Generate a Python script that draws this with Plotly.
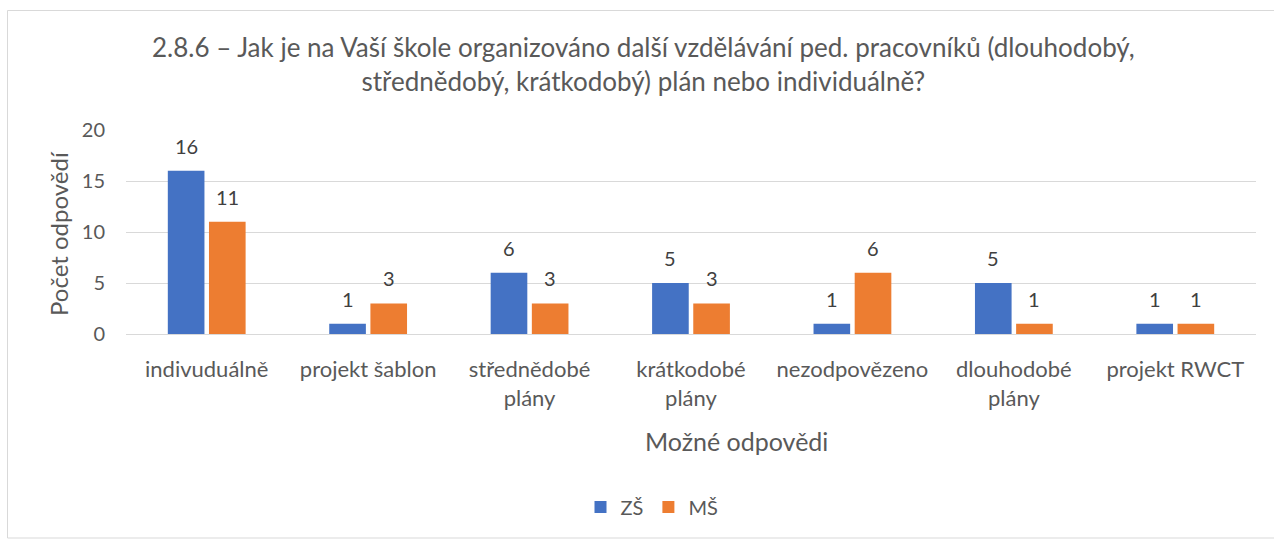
import plotly.graph_objects as go

# Survey answers per option, split by school type
categories = [
    "indivuduálně",
    "projekt šablon",
    "střednědobé<br>plány",
    "krátkodobé<br>plány",
    "nezodpovězeno",
    "dlouhodobé<br>plány",
    "projekt RWCT",
]
zs_values = [16, 1, 6, 5, 1, 5, 1]
ms_values = [11, 3, 3, 3, 6, 1, 1]
series_names = ["ZŠ", "MŠ"]
y_ticks = [0, 5, 10, 15, 20]

title_text = ("2.8.6 – Jak je na Vaší škole organizováno další vzdělávání ped. pracovníků (dlouhodobý,<br>"
              "střednědobý, krátkodobý) plán nebo individuálně?")

FONT = "Lato"
TEXT = "#595959"
BLUE = "#4472C4"
ORANGE = "#ED7D31"

W, H = 1274, 540
L, R, T, B = 126, 18, 130, 206
plot_w = W - L - R
plot_h = H - T - B


def px_x(p):
    return (p - L) / plot_w


def px_y(p):
    return (H - B - p) / plot_h


fig = go.Figure()
for name, vals, col in [(series_names[0], zs_values, BLUE), (series_names[1], ms_values, ORANGE)]:
    fig.add_trace(go.Bar(name=name, x=categories, y=vals, marker=dict(color=col, line=dict(width=0))))

# value labels above each bar
slot = plot_w / len(categories) * (1 - 0.49) / 2
annotations = []
for vals, shift in [(zs_values, -slot / 2), (ms_values, slot / 2)]:
    for c, v in zip(categories, vals):
        annotations.append(dict(x=c, y=v, xref="x", yref="y", text=str(v), showarrow=False,
                                xshift=shift, yshift=25, yanchor="middle",
                                font=dict(family=FONT, size=20, color="#404040")))

# chart title
annotations.append(dict(x=px_x(643), y=px_y(64), xref="paper", yref="paper", text=title_text,
                        showarrow=False, xanchor="center", yanchor="middle",
                        font=dict(family=FONT, size=26, color=TEXT)))
# axis titles
annotations.append(dict(x=px_x(736), y=px_y(441), xref="paper", yref="paper", text="Možné odpovědi",
                        showarrow=False, xanchor="center", yanchor="middle",
                        font=dict(family=FONT, size=25, color=TEXT)))
annotations.append(dict(x=px_x(58), y=px_y(234), xref="paper", yref="paper", text="Počet odpovědí",
                        showarrow=False, xanchor="center", yanchor="middle", textangle=-90,
                        font=dict(family=FONT, size=24, color=TEXT)))

fig.update_layout(
    width=W, height=H,
    margin=dict(l=L, r=R, t=T, b=B, autoexpand=False),
    paper_bgcolor="white", plot_bgcolor="white",
    barmode="group", bargap=0.49, bargroupgap=0.11,
    font=dict(family=FONT, color=TEXT),
    showlegend=True,
    legend=dict(orientation="h", x=px_x(652), y=px_y(507), xanchor="center", yanchor="middle",
                font=dict(family=FONT, size=20, color=TEXT), itemwidth=30,
                traceorder="normal"),
    annotations=annotations,
    shapes=[dict(type="rect", xref="paper", yref="paper",
                 x0=px_x(7.5), x1=px_x(1290), y0=px_y(538), y1=px_y(10.5),
                 line=dict(color="#d9d9d9", width=1), fillcolor="rgba(0,0,0,0)", layer="below")],
)
fig.update_xaxes(showgrid=False, showline=False, ticks="", ticklabelstandoff=20,
                 tickfont=dict(family=FONT, size=22, color=TEXT))
fig.update_yaxes(range=[0, 20], tickvals=y_ticks, showgrid=True, gridcolor="#d9d9d9", gridwidth=1,
                 zeroline=True, zerolinecolor="#d9d9d9", zerolinewidth=1, showline=False, ticks="",
                 ticklabelstandoff=20, tickfont=dict(family=FONT, size=20, color=TEXT))

fig.write_html("out.html")
